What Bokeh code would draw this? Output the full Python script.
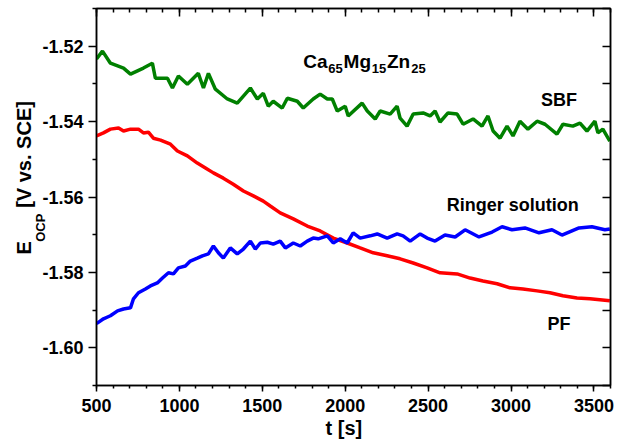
from bokeh.plotting import figure
from bokeh.models import (LinearAxis, Label, Title, FixedTicker, Range1d, NumeralTickFormatter,
                          CustomJSTickFormatter)
from bokeh.embed import file_html
from bokeh.resources import INLINE

# ---- data ----
t_sbf = [500, 536, 584, 663, 705, 783, 837, 855, 928, 958, 994, 1048, 1114, 1145, 1175, 1217, 1289,
         1349, 1428, 1470, 1506, 1536, 1566, 1620, 1651, 1711, 1747, 1807, 1849, 1892, 1922, 1952,
         2000, 2018, 2102, 2133, 2181, 2211, 2271, 2313, 2331, 2373, 2410, 2470, 2512, 2542, 2572,
         2620, 2675, 2711, 2771, 2825, 2861, 2892, 2934, 2976, 3012, 3054, 3102, 3157, 3205, 3277,
         3313, 3373, 3416, 3458, 3506, 3524, 3554, 3596]
e_sbf = [-1.5234, -1.5213, -1.5245, -1.5258, -1.5274, -1.5258, -1.5245, -1.5285, -1.5285, -1.5311,
         -1.5279, -1.5301, -1.5272, -1.5311, -1.5272, -1.5314, -1.5340, -1.5351, -1.5311, -1.5340,
         -1.5325, -1.5359, -1.5346, -1.5364, -1.5338, -1.5346, -1.5364, -1.5340, -1.5327, -1.5340,
         -1.5340, -1.5372, -1.5359, -1.5385, -1.5351, -1.5372, -1.5393, -1.5372, -1.5380, -1.5359,
         -1.5391, -1.5412, -1.5380, -1.5377, -1.5385, -1.5372, -1.5401, -1.5377, -1.5380, -1.5407,
         -1.5393, -1.5412, -1.5385, -1.5425, -1.5444, -1.5412, -1.5438, -1.5399, -1.5420, -1.5399,
         -1.5407, -1.5433, -1.5407, -1.5412, -1.5404, -1.5425, -1.5399, -1.5430, -1.5420, -1.5452]

t_pf = [500, 542, 584, 633, 663, 705, 753, 783, 813, 843, 886, 946, 988, 1048, 1108, 1157, 1205,
        1265, 1325, 1386, 1446, 1506, 1548, 1608, 1687, 1771, 1849, 1928, 2012, 2090, 2169, 2253,
        2331, 2410, 2494, 2572, 2675, 2753, 2831, 2916, 2994, 3072, 3157, 3235, 3313, 3398, 3476, 3596]
e_pf = [-1.5438, -1.5430, -1.5420, -1.5417, -1.5425, -1.5420, -1.5420, -1.5430, -1.5428, -1.5444,
        -1.5449, -1.5460, -1.5478, -1.5491, -1.5510, -1.5523, -1.5536, -1.5550, -1.5566, -1.5584,
        -1.5597, -1.5611, -1.5624, -1.5642, -1.5658, -1.5677, -1.5690, -1.5709, -1.5722, -1.5735,
        -1.5748, -1.5756, -1.5764, -1.5775, -1.5788, -1.5801, -1.5804, -1.5815, -1.5823, -1.5830,
        -1.5841, -1.5844, -1.5849, -1.5854, -1.5862, -1.5868, -1.5870, -1.5875]

t_ringer = [500, 542, 584, 627, 663, 705, 723, 753, 795, 825, 867, 898, 934, 964, 994, 1036, 1066,
            1108, 1139, 1175, 1205, 1235, 1265, 1307, 1349, 1386, 1428, 1458, 1488, 1530, 1566, 1608,
            1639, 1687, 1729, 1771, 1807, 1837, 1892, 1928, 1970, 2012, 2048, 2090, 2151, 2193, 2253,
            2313, 2349, 2392, 2452, 2494, 2542, 2602, 2663, 2723, 2807, 2886, 2946, 3006, 3084, 3169,
            3247, 3307, 3410, 3488, 3566, 3596]
e_ringer = [-1.5936, -1.5923, -1.5915, -1.5902, -1.5897, -1.5894, -1.5870, -1.5854, -1.5844, -1.5836,
            -1.5828, -1.5815, -1.5801, -1.5804, -1.5788, -1.5783, -1.5770, -1.5762, -1.5756, -1.5751,
            -1.5730, -1.5748, -1.5762, -1.5735, -1.5751, -1.5738, -1.5717, -1.5738, -1.5722, -1.5720,
            -1.5725, -1.5717, -1.5735, -1.5722, -1.5730, -1.5717, -1.5709, -1.5711, -1.5703, -1.5722,
            -1.5711, -1.5722, -1.5695, -1.5709, -1.5703, -1.5698, -1.5709, -1.5698, -1.5703, -1.5717,
            -1.5698, -1.5709, -1.5717, -1.5701, -1.5706, -1.5687, -1.5706, -1.5693, -1.5679, -1.5687,
            -1.5682, -1.5695, -1.5687, -1.5701, -1.5682, -1.5679, -1.5687, -1.5685]

x_ticks = [500, 1000, 1500, 2000, 2500, 3000, 3500]
x_minor = list(range(500, 3601, 100))
y_ticks = [-1.60, -1.58, -1.56, -1.54, -1.52]
y_minor = [-1.61, -1.59, -1.57, -1.55, -1.53, -1.51]

FONT = "Liberation Sans"
NB = "\u00a0"

p = figure(width=622, height=446, output_backend="svg", toolbar_location=None,
           x_range=Range1d(500, 3600), y_range=Range1d(-1.61, -1.51),
           min_border_left=96, min_border_right=12, min_border_top=8, min_border_bottom=61)
p.xgrid.visible = False
p.ygrid.visible = False
p.outline_line_color = "black"
p.outline_line_width = 1.5
p.outline_line_alpha = 1.0
p.background_fill_color = "white"
p.border_fill_color = "white"

p.line(t_sbf, e_sbf, line_color="#008000", line_width=3.5)
p.line(t_pf, e_pf, line_color="#ff0000", line_width=3.5)
p.line(t_ringer, e_ringer, line_color="#0000ff", line_width=3.5)

def style_axis(ax, inside=False):
    ax.axis_line_color = "black"
    ax.axis_line_width = 1.5
    ax.major_tick_line_color = "black"
    ax.major_tick_line_width = 1.5
    ax.minor_tick_line_color = "black"
    ax.minor_tick_line_width = 1.5
    if inside:
        ax.major_tick_in = 8
        ax.major_tick_out = 0
        ax.minor_tick_in = 4
        ax.minor_tick_out = 0
        ax.formatter = CustomJSTickFormatter(code="return ''")
        ax.major_label_text_font_size = "0px"
        ax.major_label_standoff = 0
    else:
        ax.major_label_text_font = FONT
        ax.major_label_text_font_style = "bold"
        ax.major_label_text_font_size = "18px"
        ax.major_label_text_color = "black"

xa = p.xaxis[0]
xa.ticker = FixedTicker(ticks=x_ticks, minor_ticks=x_minor)
style_axis(xa)
xa.major_tick_in = 0
xa.major_tick_out = 6
xa.minor_tick_in = 0
xa.minor_tick_out = 3
xa.major_label_standoff = 7

ya = p.yaxis[0]
ya.ticker = FixedTicker(ticks=y_ticks, minor_ticks=y_minor)
ya.formatter = NumeralTickFormatter(format="0.00")
style_axis(ya)
ya.major_tick_in = 0
ya.major_tick_out = 8
ya.minor_tick_in = 0
ya.minor_tick_out = 4
ya.major_label_standoff = 5
# subscript of the y title, padded so that it sits just above the "E"
ya.axis_label = "OCP" + NB * 17
ya.axis_label_text_font = FONT
ya.axis_label_text_font_style = "bold"
ya.axis_label_text_font_size = "13px"
ya.axis_label_text_color = "black"
ya.axis_label_standoff = -9

top = LinearAxis(ticker=FixedTicker(ticks=x_ticks, minor_ticks=x_minor))
style_axis(top, inside=True)
p.add_layout(top, "above")
right = LinearAxis(ticker=FixedTicker(ticks=y_ticks, minor_ticks=y_minor))
style_axis(right, inside=True)
right.minor_tick_in = 8
p.add_layout(right, "right")

# axis titles
p.add_layout(Title(text="E" + NB * 6 + "[V vs. SCE]", align="left", offset=131, standoff=-8,
                   vertical_align="bottom", text_font=FONT, text_font_style="bold",
                   text_font_size="20px", text_color="black"), "left")
p.add_layout(Title(text="t [s]", align="left", offset=229, standoff=0, vertical_align="bottom",
                   text_font=FONT, text_font_style="bold", text_font_size="20px",
                   text_color="black"), "below")

def lab(x, y, text, size, align="left"):
    p.add_layout(Label(x=x, y=y, text=text, text_font=FONT, text_font_style="bold",
                       text_font_size=size, text_color="black", text_align=align,
                       text_baseline="alphabetic"))

# sample name with subscripts
lab(1747, -1.52397, "Ca", "19px")
lab(1898, -1.52583, "65", "13px")
lab(1990, -1.52397, "Mg", "19px")
lab(2160, -1.52583, "15", "13px")
lab(2252, -1.52397, "Zn", "19px")
lab(2398, -1.52583, "25", "13px")

lab(3290, -1.53430, "SBF", "18px", "center")
lab(3010, -1.56212, "Ringer solution", "18px", "center")
lab(3290, -1.59364, "PF", "18px", "center")

open("out.html", "w").write(file_html(p, INLINE))
